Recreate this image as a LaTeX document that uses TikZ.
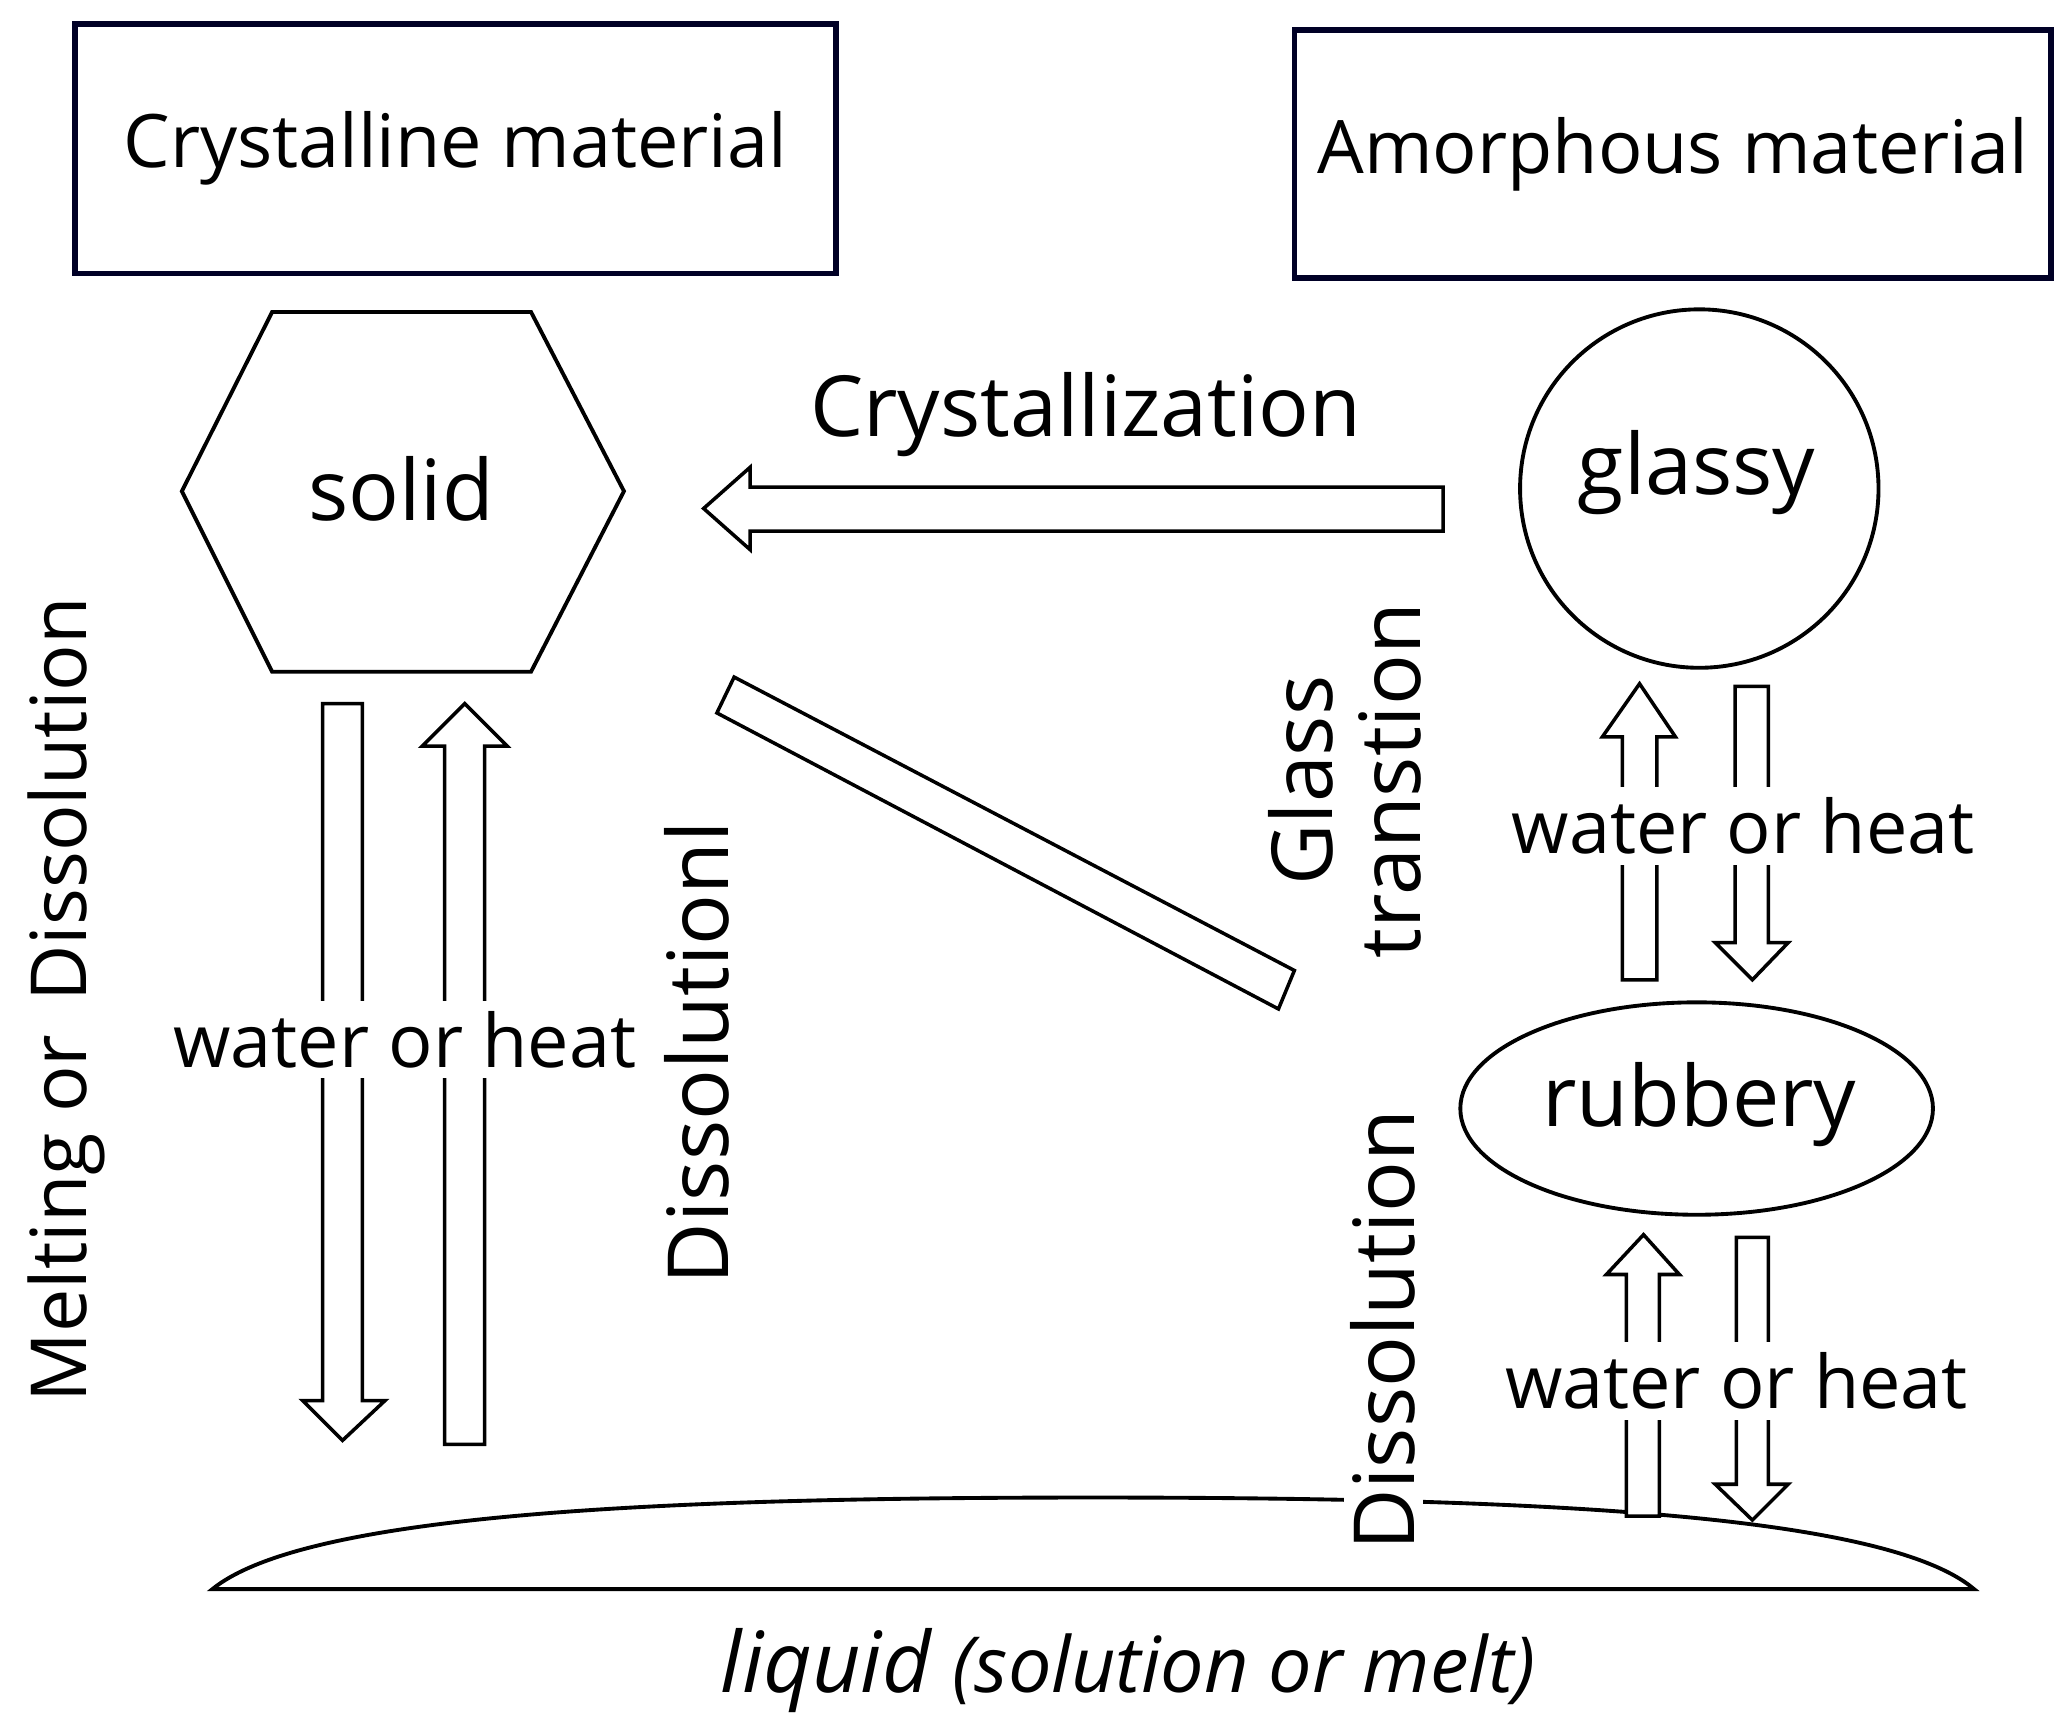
\documentclass[tikz,border=0pt]{standalone}
\usepackage{fontspec}
\setmainfont{Open Sans}
\usetikzlibrary{shapes.geometric}
\begin{document}
\begin{tikzpicture}[x=0.013276cm,y=-0.013276cm,line width=1.1pt,
  lab/.style={font=\fontsize{21}{24}\selectfont},
  lg/.style={font=\fontsize{24}{27}\selectfont},
  big/.style={font=\fontsize{24}{27}\selectfont},
  harrow/.style={draw,fill=white,line width=1pt},
  wlab/.style={lab,fill=white,inner sep=3pt}]
\useasboundingbox (0,0) rectangle (1560,1303);
% title boxes
\node[draw,line width=1.6pt,draw=black!85!blue,minimum width=573*0.013276cm,minimum height=188*0.013276cm,lab] (cryst) at (343,112) {Crystalline material};
\node[draw,line width=1.6pt,draw=black!85!blue,minimum width=570*0.013276cm,minimum height=187*0.013276cm,lab] (amor) at (1260,116) {Amorphous material};
% hexagon
\draw (137,370) -- (205,235) -- (400,235) -- (470,370) -- (400,506) -- (205,506) -- cycle;
\node[big] (solid) at (302,368) {solid};
% glassy, rubbery
\node[draw,circle,minimum size=270*0.013276cm] (glassy) at (1280,368) {};
\node[big] at (1278,356) {glassy};
\node[draw,ellipse,minimum width=356*0.013276cm,minimum height=160*0.013276cm] (rubbery) at (1278,835) {};
\node[big] at (1280,832) {rubbery};
% liquid
\draw (160,1197) .. controls (230,1140) and (500,1128) .. (823,1128) .. controls (1150,1128) and (1420,1140) .. (1487,1197) -- cycle;
\node[font=\fontsize{24}{27}\selectfont\itshape] (liquid) at (850,1258) {liquid {\fontsize{22}{25}\selectfont(solution or melt)}};
% crystallization arrow
\draw[harrow] (1087,367) -- (565,367) -- (565,352) -- (530,383) -- (565,414) -- (565,400) -- (1087,400) -- cycle;
\node[lg] (crl) at (818,312) {Crystallization};
% left arrows
\draw[harrow] (243,530) -- (273,530) -- (273,1055) -- (290,1055) -- (258,1085) -- (228,1055) -- (243,1055) -- cycle;
\draw[harrow] (335,1088) -- (365,1088) -- (365,562) -- (382,562) -- (350,530) -- (318,562) -- (335,562) -- cycle;
\node[wlab] (w1) at (305,783) {water or heat};
\node[lab,font=\fontsize{22}{25}\selectfont,rotate=90] (melt) at (50,753) {Melting or\, Dissolution};
\node[lg,rotate=90] (diss1) at (525,793) {Dissolutionl};
% diagonal bar
\draw[harrow] (540,537) -- (553,510) -- (975,731) -- (963,760) -- cycle;
\node[lg,rotate=90,align=center] (gt) at (1013,588) {Glass\\[-2pt]transtion};
% glassy-rubbery arrows
\draw[harrow] (1222,738) -- (1248,738) -- (1248,555) -- (1262,555) -- (1235,515) -- (1207,555) -- (1222,555) -- cycle;
\draw[harrow] (1307,517) -- (1332,517) -- (1332,710) -- (1347,710) -- (1320,738) -- (1292,710) -- (1307,710) -- cycle;
\node[wlab] (w2) at (1313,622) {water or heat};
% rubbery-liquid arrows
\draw[harrow] (1225,1142) -- (1250,1142) -- (1250,960) -- (1265,960) -- (1238,930) -- (1210,960) -- (1225,960) -- cycle;
\draw[harrow] (1308,932) -- (1332,932) -- (1332,1118) -- (1347,1118) -- (1320,1145) -- (1292,1118) -- (1308,1118) -- cycle;
\node[wlab] (w3) at (1308,1040) {water or heat};
\node[lg,rotate=90,fill=white,inner sep=2pt] (diss2) at (1042,1002) {Dissolution};
\end{tikzpicture}
\end{document}
